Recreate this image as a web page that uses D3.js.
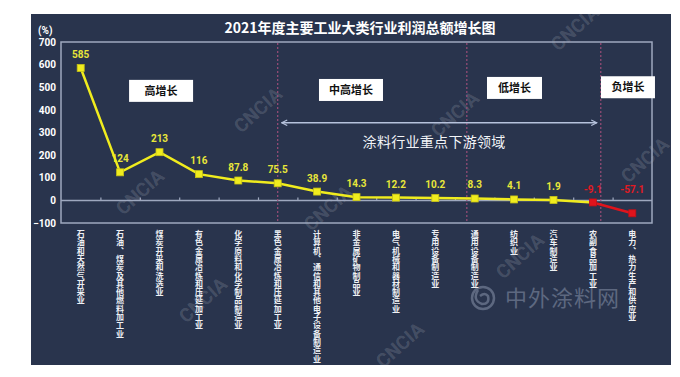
<!DOCTYPE html>
<html>
<head>
<meta charset="utf-8">
<script src="https://cdn.jsdelivr.net/npm/d3@7"></script>
<style>
  body { margin: 0; background: #fff; }
  svg { display: block; font-family: "Noto Sans CJK SC", "Noto Sans", sans-serif; }
</style>
</head>
<body>
<div id="chart"></div>
<script>
// categories and values
const categories = [
  "石油和天然气开采业",
  "石油、煤炭及其他燃料加工业",
  "煤炭开采和洗选业",
  "有色金属冶炼和压延加工业",
  "化学原料和化学制品制造业",
  "黑色金属冶炼和压延加工业",
  "计算机、通信和其他电子设备制造业",
  "非金属矿物制品业",
  "电气机械和器材制造业",
  "专用设备制造业",
  "通用设备制造业",
  "纺织业",
  "汽车制造业",
  "农副食品加工业",
  "电力、热力生产和供应业"
];
const growth = [585, 124, 213, 116, 87.8, 75.5, 38.9, 14.3, 12.2, 10.2, 8.3, 4.1, 1.9, -9.1, -57.1];
const yTicks = [-100, 0, 100, 200, 300, 400, 500, 600, 700];

// zone dividers (in category units) and zone names
const dividers = [5.5, 10.3, 13.7];
const zones = ["高增长", "中高增长", "低增长", "负增长"];
const zoneX = [2.54, 7.36, 11.51, 14.39];
const zoneY = [484, 488, 497, 500];
const zoneW = [64, 64, 55, 54];

const W = 680, H = 377;
const navy = "#29344d";
const frameColor = "#9ea8bf";

const svg = d3.select("#chart").append("svg")
  .attr("width", W).attr("height", H);

// dark panel
svg.append("rect")
  .attr("x", 31).attr("y", 14)
  .attr("width", 640).attr("height", 351)
  .attr("fill", navy);

const plot = { left: 61, right: 652, top: 42, bottom: 223 };

const x = d3.scaleBand().domain(categories).range([plot.left, plot.right]);
const xi = d3.scaleLinear().domain([0, categories.length]).range([plot.left, plot.right]);
const y = d3.scaleLinear().domain([-100, 700]).range([plot.bottom, plot.top]);
const cx = (d) => x(d) + x.bandwidth() / 2;

// watermarks (behind everything)
const marks = [[258, 110], [140, 192], [203, 300], [328, 208], [455, 114], [575, 28], [645, 160], [520, 256], [400, 345]];
svg.append("g").selectAll("text")
  .data(marks).join("text")
  .attr("transform", (d) => `translate(${d[0]},${d[1]}) rotate(-42)`)
  .attr("text-anchor", "middle")
  .attr("dy", "0.35em")
  .attr("font-size", 19)
  .attr("font-weight", "bold")
  .attr("font-family", "Roboto, sans-serif")
  .attr("fill", "#ffffff")
  .attr("fill-opacity", 0.15)
  .text("CNCIA");

// 中外涂料网 watermark
const logo = svg.append("g").attr("fill", "none").attr("stroke", "#5d6880").attr("stroke-width", 2.5);
logo.append("circle").attr("cx", 483).attr("cy", 298).attr("r", 11);
logo.append("path").attr("d", "M 478 290 Q 472 300 482 304 Q 490 304 488 296 Q 485 292 480 296");
svg.append("text")
  .attr("x", 505).attr("y", 306)
  .attr("font-size", 22)
  .attr("fill", "#5d6880")
  .attr("letter-spacing", 1)
  .text("中外涂料网");

// title
svg.append("text")
  .attr("x", 360).attr("y", 33)
  .attr("text-anchor", "middle")
  .attr("font-size", 14)
  .attr("font-weight", "bold")
  .attr("fill", "#fff")
  .text("2021年度主要工业大类行业利润总额增长图");

// frame
svg.append("rect")
  .attr("x", plot.left).attr("y", plot.top)
  .attr("width", plot.right - plot.left).attr("height", plot.bottom - plot.top)
  .attr("fill", "none")
  .attr("stroke", frameColor).attr("stroke-width", 1.5);

// y axis labels
const yAxis = svg.append("g")
  .attr("transform", `translate(${plot.left - 5},0)`)
  .call(d3.axisLeft(y).tickValues(yTicks).tickSize(0).tickPadding(0));
yAxis.select(".domain").remove();
yAxis.selectAll("text")
  .attr("font-size", 10).attr("font-weight", "bold")
  .attr("font-family", "Roboto, sans-serif")
  .attr("fill", "#fff");

svg.append("text")
  .attr("x", 38).attr("y", 34)
  .attr("font-size", 10).attr("font-weight", "bold")
  .attr("font-family", "Roboto, sans-serif")
  .attr("fill", "#fff")
  .text("(%)");

// zero axis with small ticks at band edges
const xAxis = svg.append("g")
  .attr("transform", `translate(0,${y(0)})`)
  .call(d3.axisTop(xi).tickValues(d3.range(1, categories.length)).tickSize(3).tickFormat(""));
xAxis.select(".domain").attr("stroke", frameColor).attr("stroke-width", 1.5)
  .attr("d", `M${plot.left},0H${plot.right}`);
xAxis.selectAll(".tick line").attr("stroke", frameColor).attr("stroke-width", 1.2);

// category labels (vertical writing)
svg.append("g").selectAll("text")
  .data(categories).join("text")
  .attr("x", (d) => cx(d))
  .attr("y", 230)
  .attr("writing-mode", "vertical-rl")
  .style("text-orientation", "upright")
  .attr("letter-spacing", 0.3)
  .attr("font-size", 8)
  .attr("font-weight", "bold")
  .attr("fill", "#eef0f4")
  .text((d) => d);

// dividers
svg.append("g").selectAll("line")
  .data(dividers).join("line")
  .attr("x1", (d) => xi(d)).attr("x2", (d) => xi(d))
  .attr("y1", plot.top + 1).attr("y2", plot.bottom)
  .attr("stroke", "#9b4d78")
  .attr("stroke-width", 1.2)
  .attr("stroke-dasharray", "2,2");

// zone boxes
const zg = svg.append("g").selectAll("g")
  .data(zones).join("g")
  .attr("transform", (d, i) => `translate(${xi(zoneX[i])},${y(zoneY[i])})`);
zg.append("rect")
  .attr("x", (d, i) => -zoneW[i] / 2).attr("y", -11)
  .attr("width", (d, i) => zoneW[i]).attr("height", 22)
  .attr("fill", "#fff");
zg.append("text")
  .attr("text-anchor", "middle").attr("dy", "0.36em")
  .attr("font-size", 11).attr("font-weight", "bold")
  .attr("fill", "#111")
  .text((d) => d);

// double arrow
const defs = svg.append("defs");
defs.append("marker")
  .attr("id", "chev").attr("viewBox", "0 0 10 10")
  .attr("refX", 9).attr("refY", 5)
  .attr("markerWidth", 7).attr("markerHeight", 7)
  .attr("orient", "auto-start-reverse")
  .attr("markerUnits", "userSpaceOnUse")
  .append("path")
  .attr("d", "M1,1 L9,5 L1,9")
  .attr("fill", "none").attr("stroke", "#b6c2dc").attr("stroke-width", 1.6);
svg.append("line")
  .attr("x1", xi(5.6)).attr("x2", xi(13.6))
  .attr("y1", y(343)).attr("y2", y(343))
  .attr("stroke", "#b6c2dc").attr("stroke-width", 1.6)
  .attr("marker-start", "url(#chev)").attr("marker-end", "url(#chev)");
svg.append("text")
  .attr("x", xi(9.47)).attr("y", y(236))
  .attr("text-anchor", "middle")
  .attr("font-size", 14)
  .attr("fill", "#f2f4f8")
  .attr("letter-spacing", 0.3)
  .text("涂料行业重点下游领域");

// value labels (under the line)
const pts = categories.map((c, i) => ({ c, v: growth[i] }));
svg.append("g").selectAll("text")
  .data(pts).join("text")
  .attr("x", (d) => cx(d.c))
  .attr("y", (d) => d.v < 0 ? y(0) - 7 : y(d.v) - 10)
  .attr("text-anchor", "middle")
  .attr("font-size", 10).attr("font-weight", "bold")
  .attr("font-family", "Roboto, sans-serif")
  .attr("fill", (d) => d.v < 0 ? "#e01a22" : "#e8e63a")
  .text((d) => d.v);

// line
const line = d3.line().x((d) => cx(d.c)).y((d) => y(d.v));
const firstNeg = pts.findIndex((d) => d.v < 0);
svg.append("path")
  .datum(pts.slice(0, firstNeg + 1))
  .attr("d", line)
  .attr("fill", "none").attr("stroke", "#f0ec1e").attr("stroke-width", 2.5);
svg.append("path")
  .datum(pts.slice(firstNeg))
  .attr("d", line)
  .attr("fill", "none").attr("stroke", "#e0141c").attr("stroke-width", 2.5);

// markers
svg.append("g").selectAll("rect")
  .data(pts).join("rect")
  .attr("x", (d) => cx(d.c) - 3.5).attr("y", (d) => y(d.v) - 3.5)
  .attr("width", 7).attr("height", 7)
  .attr("fill", (d) => d.v < 0 ? "#e0141c" : "#f0ec1e")
  .attr("stroke", (d) => d.v < 0 ? "#c01018" : "#c8c414")
  .attr("stroke-width", 0.8);
</script>
</body>
</html>
